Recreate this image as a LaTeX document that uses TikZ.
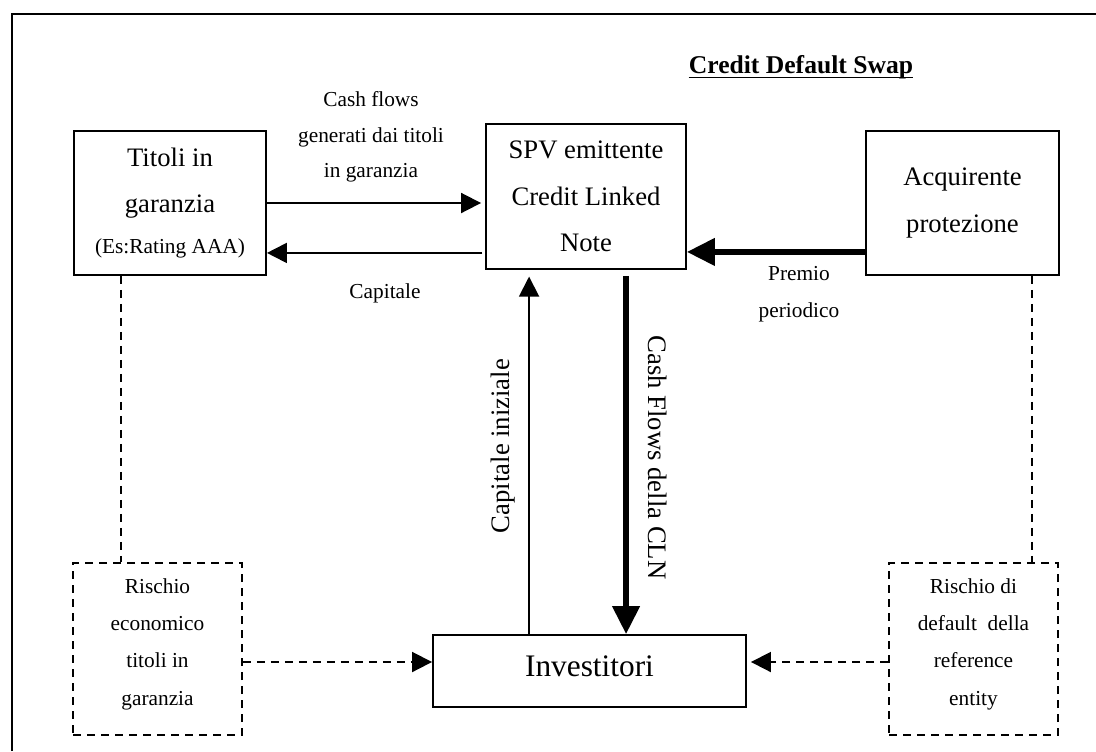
\documentclass[tikz,border=0pt]{standalone}
\usepackage{fontspec}
\setmainfont{Liberation Serif}
\usetikzlibrary{arrows.meta}

\begin{document}
\begin{tikzpicture}[x=0.75pt, y=-0.75pt]
    \useasboundingbox (0,0) rectangle (1096,751);

    % --- 1. Cornice (solo lato sinistro e superiore) ---
    \draw[line width=1.6pt] (12,751) -- (12,14) -- (1096,14);

    % --- 2. Riquadri principali ---
    \tikzset{riquadro/.style={draw, line width=1.4pt, align=center, inner sep=0pt, font=\fontsize{20}{35}\selectfont}}
    \node[riquadro, minimum width=144pt, minimum height=108pt] (titoli) at (170,203)
        {Titoli in\\garanzia\\[-4.25pt]{\fontsize{16}{20}\selectfont(Es:Rating AAA)}};
    \node[riquadro, minimum width=150pt, minimum height=108.75pt] (spv) at (586,196.5)
        {SPV emittente\\Credit Linked\\Note};
    \node[riquadro, minimum width=144.75pt, minimum height=108pt] (acq) at (962.5,203)
        {Acquirente\\protezione};
    \node[riquadro, font=\fontsize{23.5}{28}\selectfont, text depth=8pt, minimum width=234.75pt, minimum height=54pt] (inv) at (589.5,671)
        {Investitori};

    % --- 3. Riquadri tratteggiati dei rischi ---
    \tikzset{rischiobox/.style={draw, line width=1.4pt, dash pattern=on 6pt off 4.5pt, align=center, inner sep=0pt,
        text depth=11pt, font=\fontsize{16}{28}\selectfont, minimum width=126.75pt, minimum height=129pt}}
    \node[rischiobox] (rischiotit) at (157.5,649) {Rischio\\economico\\titoli in\\garanzia};
    \node[rischiobox] (rischiodef) at (973.5,649) {Rischio di\\default\ \ della\\reference\\entity};

    % --- 4. Titolo ---
    \node[font=\fontsize{19.2}{23}\selectfont\bfseries, inner sep=0pt, anchor=base] (titolo) at (801,73) {Credit Default Swap};
    \draw[line width=1.4pt] ([yshift=-3.4pt]titolo.base west) -- ([yshift=-3.4pt]titolo.base east);

    % --- 5. Flussi (frecce) ---
    \tikzset{flusso/.style={-{Triangle[length=15pt,width=15pt]}, line width=1.4pt}}
    \tikzset{flussoforte/.style={-{Triangle[length=21pt,width=20pt]}, line width=4pt}}
    \tikzset{tratto/.style={line width=1.4pt, dash pattern=on 6pt off 4.5pt}}
    \tikzset{flussotratto/.style={tratto, -{Triangle[length=15pt,width=15pt]}}}

    \draw[flusso, shorten >=3pt] (titoli.east) -- (titoli.east -| spv.west);
    \draw[flusso, shorten <=2pt] ([yshift=12.75pt]spv.south west) -- ([yshift=12.75pt]spv.south west -| titoli.east);
    \draw[flussoforte] ([yshift=18pt]acq.south west) -- ([yshift=18pt]acq.south west -| spv.east);
    \draw[flusso, shorten >=5pt] ([xshift=72.75pt]inv.north west) -- ([xshift=72.75pt]inv.north west |- spv.south);
    \draw[flussoforte, shorten <=4.5pt] ([xshift=105.75pt]spv.south west) -- ([xshift=105.75pt]spv.south west |- inv.north);

    % Collegamenti tratteggiati ai rischi
    \draw[tratto] ([xshift=36pt]titoli.south west) -- ([xshift=36pt]titoli.south west |- rischiotit.north);
    \draw[tratto] ([xshift=125.25pt]acq.south west) -- ([xshift=125.25pt]acq.south west |- rischiodef.north);
    \draw[flussotratto] ([yshift=6.75pt]inv.west -| rischiotit.east) -- ([yshift=6.75pt]inv.west);
    \draw[flussotratto, shorten >=3pt] ([yshift=6.75pt]inv.east -| rischiodef.west) -- ([yshift=6.75pt]inv.east);

    % --- 6. Etichette dei flussi ---
    \tikzset{etichetta/.style={align=center, inner sep=0pt, font=\fontsize{16}{26.5}\selectfont}}
    \node[etichetta] (txt-cashflow) at (371,137) {Cash flows\\generati dai titoli\\in garanzia};
    \node[etichetta] (txt-capitale) at (385,293) {Capitale};
    \node[etichetta, font=\fontsize{16}{27.75}\selectfont] (txt-premio) at (799,294) {Premio\\periodico};

    % Etichette verticali
    \node[font=\fontsize{20}{24}\selectfont, rotate=90, inner sep=0pt] (txt-iniziale) at (503,446) {Capitale iniziale};
    \node[font=\fontsize{20}{24}\selectfont, rotate=-90, inner sep=0pt] (txt-cln) at (657.5,457.5) {Cash Flows della CLN};

\end{tikzpicture}
\end{document}
